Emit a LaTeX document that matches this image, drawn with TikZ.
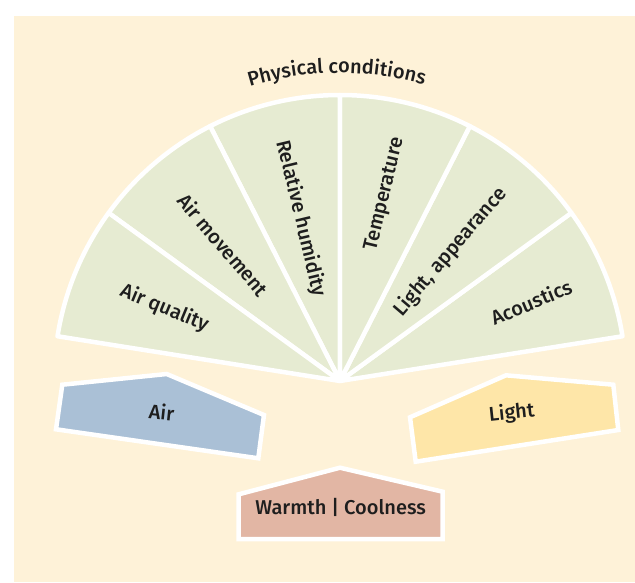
\documentclass[tikz,border=0pt]{standalone}
\usepackage{fontspec}
\setmainfont{Fira Sans}[UprightFont={* Medium}]
\usetikzlibrary{decorations.text}

\definecolor{bgcream}{HTML}{FEF2D8}
\definecolor{sectorgreen}{HTML}{E6EBD2}
\definecolor{airblue}{HTML}{AAC0D6}
\definecolor{lightyellow}{HTML}{FEE6A8}
\definecolor{warmrose}{HTML}{E2B6A4}
\definecolor{inkgray}{HTML}{1E1E1E}

\begin{document}
\begin{tikzpicture}[x=1pt, y=1pt,
    sector/.style={fill=sectorgreen, draw=white, line width=4.5pt, line join=round},
    facet/.style={draw=white, line width=4.5pt, line join=miter},
    lbl/.style={text=inkgray, font=\fontsize{20}{23}\selectfont, inner sep=0pt}]

    \useasboundingbox (-340,-201) rectangle (295,381);
    \fill[bgcream] (-326,-201) rectangle (295,365);

    \foreach \a in {9,36,...,144}
      \draw[sector] (0,0) -- (\a:286) arc[start angle=\a, delta angle=27, radius=286] -- cycle;

    \foreach \a/\r/\txt [count=\i] in {22.5/250/Acoustics, 49.5/251/{Light, appearance}, 76.5/250/Temperature}
      \node[lbl, anchor=east, rotate=\a] (sec\i) at (\a:\r) {\txt};
    \foreach \a/\r/\txt [count=\i from 4] in {103.5/247/Relative humidity, 130.5/243/Air movement, 157.5/237/Air quality}
      \node[lbl, anchor=west, rotate=\a-180] (sec\i) at (\a:\r) {\txt};

    \path[decorate, decoration={text along path, text align=center, text color=inkgray,
        text={|\fontsize{20}{23}\selectfont|Physical conditions}}]
        (107.6:308) arc[start angle=107.6, end angle=73.6, radius=308];

    \draw[facet, fill=airblue] (-277.7,-3.7) -- (-173.3,7) -- (-76,-34) -- (-81.7,-77.3) -- (-284,-48.3) -- cycle;
    \node[lbl, rotate=-6] (air) at (-178.3,-30.7) {Air};

    \draw[facet, fill=lightyellow] (70,-36.3) -- (166,5.7) -- (273.3,-3.7) -- (278.3,-49) -- (75.7,-80.7) -- cycle;
    \node[lbl, rotate=6] (light) at (171.7,-32.3) {Light};

    \draw[facet, fill=warmrose] (0,-86.7) -- (102.7,-110.7) -- (102.7,-158) -- (-101.3,-158) -- (-101.3,-113.3) -- cycle;
    \node[lbl] (warmth) at (0.7,-126.7) {Warmth | Coolness};
\end{tikzpicture}
\end{document}
